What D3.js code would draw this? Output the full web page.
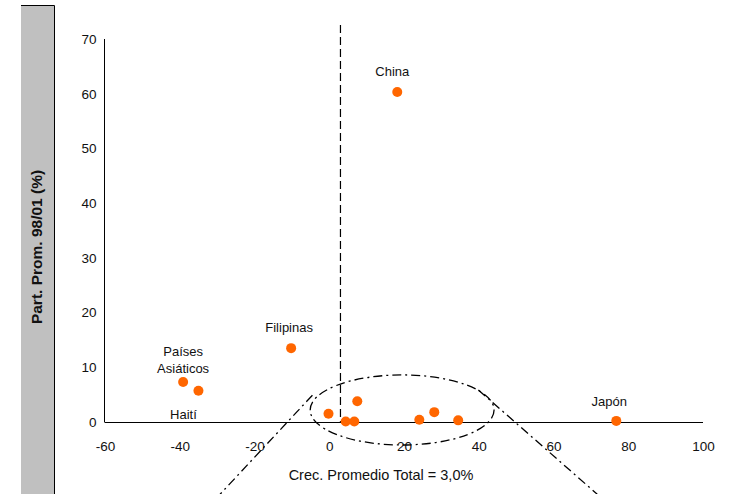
<!DOCTYPE html>
<html><head><meta charset="utf-8">
<script src="https://cdn.jsdelivr.net/npm/d3@7"></script>
<style>
body{margin:0;background:#fff;}
svg{display:block;font-family:"Liberation Sans",Arial,sans-serif;}
</style></head>
<body>
<svg id="chart" width="733" height="494"></svg>
<script>
// Data
const names = ["China","Filipinas","Países Asiáticos","Haití","Japón","","","","","","",""];
const xVals = [18.2,-10.2,-39.1,-35.0,76.8,-0.2,4.4,6.7,7.5,24.1,28.1,34.5];
const yVals = [60.3,13.5,7.3,5.7,0.2,1.5,0.1,0.1,3.8,0.4,1.8,0.3];
const xTicks = [-60,-40,-20,0,20,40,60,80,100];
const yTicks = [0,10,20,30,40,50,60,70];
const avgGrowth = 3.0;
const xTitle = "Crec. Promedio Total = 3,0%";
const yTitle = "Part. Prom. 98/01 (%)";
const labelDefs = [
  {i:0, lines:["China"], dx:-5, dy:-16},
  {i:1, lines:["Filipinas"], dx:-2, dy:-16},
  {i:2, lines:["Países","Asiáticos"], dx:0, dy:-26},
  {i:3, lines:["Haití"], dx:-15, dy:28},
  {i:4, lines:["Japón"], dx:-7, dy:-15}
];
const ellipse = {cx:19.5, cy:2.2, rx:24.6, ry:6.4};
const callouts = [
  [[-4.5,4.9],[-29.2,-13.2]],
  [[39.9,5.85],[71.7,-13.2]]
];

const svg = d3.select("#chart");
const x = d3.scaleLinear().domain([-60,100]).range([105,703]);
const y = d3.scaleLinear().domain([0,70]).range([422,39]);
const fmt = d => String(d);

// left gray title box
svg.append("rect").attr("x",21).attr("y",5).attr("width",33).attr("height",495).attr("fill","#c0c0c0");
svg.append("path").attr("d","M21,5.5H54.5V494").attr("fill","none").attr("stroke","#000").attr("stroke-width",1);
svg.append("text").attr("transform","translate(42,247) rotate(-90)")
  .attr("text-anchor","middle").attr("font-size",15.5).attr("font-weight","bold").attr("fill","#111").text(yTitle);

// axes
const xAxis = svg.append("g").attr("transform","translate(0,422)")
  .call(d3.axisBottom(x).tickValues(xTicks).tickSize(0).tickPadding(19).tickFormat(fmt));
xAxis.select(".domain").attr("stroke","#000").attr("d","M"+x(-60)+",0.5H"+x(100));
xAxis.selectAll("text").attr("font-size",13.5).attr("font-family","Liberation Sans, Arial, sans-serif").attr("fill","#111");

const yAxis = svg.append("g").attr("transform","translate(104.5,0)")
  .call(d3.axisLeft(y).tickValues(yTicks).tickSize(0).tickPadding(8).tickFormat(fmt));
yAxis.select(".domain").attr("stroke","#000").attr("d","M0,"+y(70)+"V"+(y(0)+0.5));
yAxis.selectAll("text").attr("font-size",13.5).attr("font-family","Liberation Sans, Arial, sans-serif").attr("fill","#111");

// average growth dashed line
svg.append("line").attr("x1",x(avgGrowth)).attr("x2",x(avgGrowth)).attr("y1",25).attr("y2",y(0))
  .attr("stroke","#000").attr("stroke-width",1.2).attr("stroke-dasharray","8,4");

// ellipse
svg.append("ellipse").attr("cx",x(ellipse.cx)).attr("cy",y(ellipse.cy))
  .attr("rx",x(ellipse.rx)-x(0)).attr("ry",y(0)-y(ellipse.ry))
  .attr("fill","none").attr("stroke","#000").attr("stroke-width",1.3).attr("stroke-dasharray","9,4,2,4");

// callout lines
callouts.forEach(c=>{
  svg.append("line").attr("x1",x(c[0][0])).attr("y1",y(c[0][1])).attr("x2",x(c[1][0])).attr("y2",y(c[1][1]))
    .attr("stroke","#000").attr("stroke-width",1.3).attr("stroke-dasharray","9,4,2,4");
});

// points
const pts = xVals.map((v,i)=>({x:v,y:yVals[i],name:names[i]}));
svg.append("g").selectAll("circle").data(pts).join("circle")
  .attr("cx",d=>x(d.x)).attr("cy",d=>y(d.y)).attr("r",5).attr("fill","#ff6600");

// labels
labelDefs.forEach(l=>{
  const p = pts[l.i];
  const t = svg.append("text").attr("text-anchor","middle").attr("font-size",13).attr("fill","#111")
    .attr("x",x(p.x)+l.dx).attr("y",y(p.y)+l.dy);
  l.lines.forEach((s,k)=>{
    t.append("tspan").attr("x",x(p.x)+l.dx).attr("dy",k===0?0:17).text(s);
  });
});

// x title
svg.append("text").attr("x",381).attr("y",480).attr("text-anchor","middle").attr("font-size",14.5).attr("fill","#111").text(xTitle);
</script>
</body></html>
